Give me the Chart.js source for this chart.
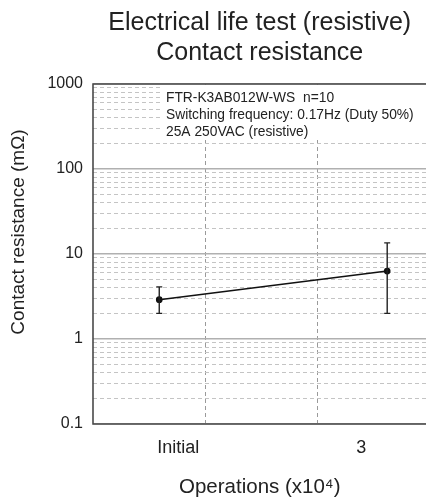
<!DOCTYPE html>
<html>
<head>
<meta charset="utf-8">
<script src="https://cdn.jsdelivr.net/npm/chart.js@4"></script>
<style>
    html, body { margin: 0; padding: 0; background: #fff; overflow: hidden; }
    #wrap { width: 432px; height: 498px; position: relative; }
</style>
</head>
<body>
<div id="wrap"><canvas id="lifeChart"></canvas></div>
<script>
// values
const categories = ["Initial", "3"];
const meanRes = [2.9, 6.3];      // mΩ
const minRes = [2.0, 2.0];
const maxRes = [4.1, 13.5];
const pointX = [0.59, 2.62];     // where the points sit on the 0..3 grid of the plot
const labelX = [0.76, 2.39];     // where the category labels sit
const xGrid = [1, 2];
const yTicks = [0.1, 1, 10, 100, 1000];
const noteLines = [
    "FTR-K3AB012W-WS  n=10",
    "Switching frequency: 0.17Hz (Duty 50%)",
    "25A 250VAC (resistive)"
];

const FONT = "'Liberation Sans', Arial, sans-serif";
Chart.defaults.font.family = FONT;
Chart.defaults.color = "#222";

// decades plus the 2..9 minor lines of a log axis
const logTicks = [];
yTicks.forEach((d, i) => {
    if (i === yTicks.length - 1) { logTicks.push(d); return; }
    for (let k = 1; k <= 9; k++) logTicks.push(+(k * d).toPrecision(3));
});
const isMajor = v => yTicks.includes(v);

const framePlugin = {
    id: "frame",
    beforeDatasetsDraw(chart) {
        const { ctx, chartArea: a } = chart;
        ctx.save();
        // white box behind the note text
        ctx.fillStyle = "#fff";
        ctx.fillRect(a.left + 70, a.top + 1, a.right - a.left - 70, 52);
        ctx.fillStyle = "#222";
        ctx.font = "13.8px " + FONT;
        ctx.textBaseline = "middle";
        noteLines.forEach((t, i) => ctx.fillText(t, a.left + 73, a.top + 14.5 + i * 16.8));

        ctx.strokeStyle = "#4a4a4a";
        ctx.lineWidth = 1.6;
        ctx.beginPath();
        ctx.moveTo(a.right, a.top);
        ctx.lineTo(a.left, a.top);
        ctx.lineTo(a.left, a.bottom);
        ctx.lineTo(a.right, a.bottom);
        ctx.stroke();

        // y axis title, drawn here so it can sit where the reference has it
        ctx.translate(19, 232);
        ctx.rotate(-Math.PI / 2);
        ctx.font = "19px " + FONT;
        ctx.textAlign = "center";
        ctx.fillText("Contact resistance (mΩ)", 0, 0);
        ctx.restore();
    }
};

const errorBarPlugin = {
    id: "errorBars",
    afterDatasetsDraw(chart) {
        const { ctx, scales: { x, y } } = chart;
        ctx.save();
        ctx.strokeStyle = "#222";
        ctx.lineWidth = 1.4;
        pointX.forEach((v, i) => {
            const px = x.getPixelForValue(v);
            const top = y.getPixelForValue(maxRes[i]);
            const bot = y.getPixelForValue(minRes[i]);
            ctx.beginPath();
            ctx.moveTo(px, top); ctx.lineTo(px, bot);
            ctx.moveTo(px - 3, top); ctx.lineTo(px + 3, top);
            ctx.moveTo(px - 3, bot); ctx.lineTo(px + 3, bot);
            ctx.stroke();
        });
        ctx.restore();
    }
};

new Chart(document.getElementById("lifeChart"), {
    type: "line",
    data: {
        datasets: [{
            data: pointX.map((v, i) => ({ x: v, y: meanRes[i] })),
            borderColor: "#111",
            borderWidth: 1.5,
            pointRadius: 2.6,
            pointBackgroundColor: "#111",
            pointBorderColor: "#111",
            tension: 0
        }]
    },
    options: {
        responsive: true,
        maintainAspectRatio: false,
        animation: false,
        layout: { padding: 0 },
        plugins: {
            legend: { display: false },
            tooltip: { enabled: false },
            title: {
                display: true,
                fullSize: false,
                text: ["Electrical life test (resistive)", "Contact resistance"],
                color: "#222",
                font: { size: 25, weight: "normal", lineHeight: 1.2 },
                padding: { top: 8.5, bottom: 15.5 }
            }
        },
        scales: {
            x: {
                type: "linear",
                min: 0,
                max: 2.97,
                afterBuildTicks: s => { s.ticks = xGrid.map(v => ({ value: v })); },
                afterFit: s => { s.height = 0; },
                ticks: { display: false },
                grid: { color: "#9a9a9a", lineWidth: 1, drawTicks: false },
                border: { display: false, dash: [4, 3] }
            },
            xl: {
                type: "linear",
                position: "bottom",
                min: 0,
                max: 2.97,
                afterBuildTicks: s => { s.ticks = labelX.map(v => ({ value: v })); },
                afterFit: s => { s.height = 74; },
                ticks: {
                    padding: 13,
                    font: { size: 18 },
                    color: "#222",
                    autoSkip: false,
                    maxRotation: 0,
                    callback: (v, i) => categories[i]
                },
                grid: { display: false, drawTicks: false },
                border: { display: false },
                title: {
                    display: true,
                    text: "Operations (x10⁴)",
                    font: { size: 20.5, lineHeight: 1 },
                    color: "#222",
                    padding: 0
                }
            },
            y: {
                type: "logarithmic",
                min: 0.1,
                max: 1000,
                afterBuildTicks: s => { s.ticks = logTicks.map(v => ({ value: v })); },
                afterFit: s => { s.width = 93; },
                ticks: {
                    padding: 10,
                    font: { size: 16 },
                    color: "#222",
                    autoSkip: false,
                    callback: v => isMajor(v) ? String(v) : ""
                },
                grid: {
                    drawTicks: false,
                    color: c => (c.tick && isMajor(c.tick.value)) ? "#b0b0b0" : "#c4c4c4",
                    lineWidth: c => (c.tick && isMajor(c.tick.value)) ? 1.6 : 1
                },
                border: {
                    display: false,
                    dash: c => (c.tick && isMajor(c.tick.value)) ? [] : [4, 3]
                }
            }
        }
    },
    plugins: [framePlugin, errorBarPlugin]
});
</script>
</body>
</html>
